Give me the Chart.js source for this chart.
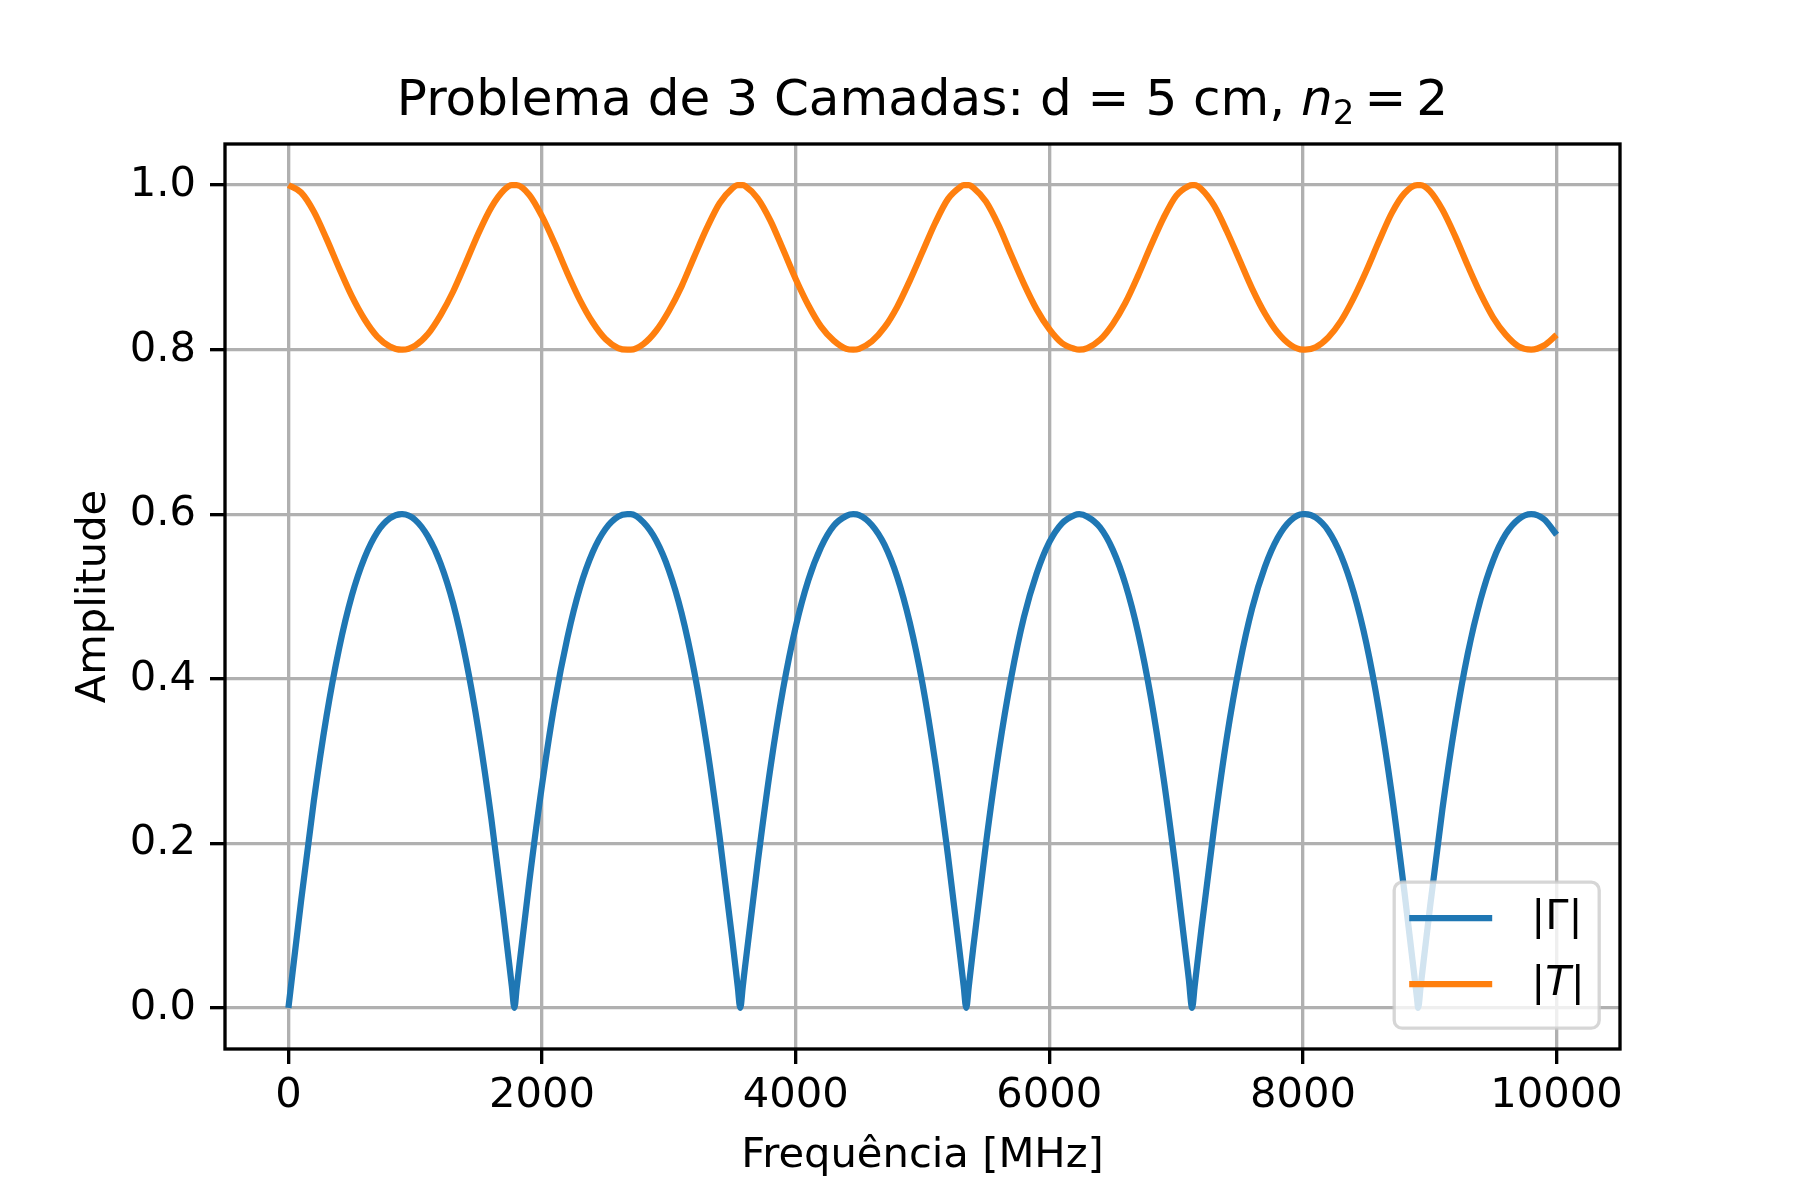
<!DOCTYPE html>
<html>
<head>
<meta charset="utf-8">
<script src="https://cdn.jsdelivr.net/npm/chart.js@4.4.0/dist/chart.umd.min.js"></script>
<style>
  html, body { margin: 0; padding: 0; background: #fff; }
  #wrap { width: 1800px; height: 1200px; }
</style>
</head>
<body>
<div id="wrap"><canvas id="myChart" width="1800" height="1200" style="width:1800px;height:1200px"></canvas></div>
<script>
// frequency samples [MHz]
const freq = [0,100,200,300,400,500,600,700,800,891,900,1000,1100,1200,1300,1400,1500,1600,1700,
  1762,1782,1800,1900,2000,2100,2200,2300,2400,2500,2600,2672,2700,2800,2900,3000,3100,3200,3300,3400,3500,
  3543,3563,3583,3600,3700,3800,3900,4000,4100,4200,4300,4400,4454,4500,4600,4700,4800,4900,5000,5100,5200,5300,
  5325,5345,5365,5400,5500,5600,5700,5800,5900,6000,6100,6200,6236,6300,6400,6500,6600,6700,6800,6900,7000,7100,
  7126,7146,7200,7300,7400,7500,7600,7700,7800,7900,8000,8018,8100,8200,8300,8400,8500,8600,8700,8800,8900,
  8908,8928,9000,9100,9200,9300,9400,9500,9600,9700,9800,9900,10000];

// |Gamma|
const gamma = [0.000,0.130,0.251,0.354,0.437,0.501,0.547,0.578,0.595,0.600,0.600,0.593,0.573,0.540,0.491,0.423,0.336,0.230,0.107,
  0.026,0.000,0.024,0.154,0.271,0.371,0.450,0.511,0.554,0.582,0.597,0.600,0.600,0.590,0.568,0.532,0.480,0.409,0.318,0.208,0.083,
  0.026,0.000,0.026,0.049,0.176,0.291,0.387,0.463,0.520,0.560,0.586,0.598,0.600,0.599,0.587,0.563,0.524,0.468,0.394,0.299,0.186,0.059,
  0.026,0.000,0.026,0.073,0.199,0.310,0.402,0.475,0.528,0.566,0.589,0.599,0.600,0.597,0.584,0.557,0.515,0.456,0.378,0.280,0.164,0.035,
  0.000,0.026,0.097,0.220,0.329,0.417,0.486,0.536,0.571,0.592,0.600,0.600,0.596,0.580,0.550,0.505,0.443,0.361,0.260,0.141,0.011,
  0.000,0.026,0.120,0.242,0.346,0.431,0.496,0.544,0.576,0.594,0.600,0.594,0.575];

// |T|
const trans = [1.000,0.991,0.968,0.935,0.899,0.865,0.837,0.816,0.804,0.800,0.800,0.805,0.819,0.842,0.871,0.906,0.942,0.973,0.994,
  1.000,1.000,1.000,0.988,0.962,0.929,0.893,0.860,0.833,0.813,0.802,0.800,0.800,0.807,0.823,0.847,0.877,0.913,0.948,0.978,0.996,
  1.000,1.000,1.000,0.999,0.984,0.957,0.922,0.886,0.854,0.828,0.811,0.801,0.800,0.801,0.810,0.827,0.852,0.884,0.919,0.954,0.983,0.998,
  1.000,1.000,1.000,0.997,0.980,0.951,0.915,0.880,0.849,0.825,0.808,0.801,0.800,0.802,0.812,0.831,0.857,0.890,0.926,0.960,0.987,0.999,
  1.000,1.000,0.995,0.975,0.944,0.909,0.874,0.844,0.821,0.806,0.800,0.800,0.803,0.815,0.835,0.863,0.896,0.932,0.966,0.990,1.000,
  1.000,1.000,0.993,0.970,0.938,0.902,0.868,0.839,0.818,0.804,0.800,0.805,0.818];

const xTicks = [0, 2000, 4000, 6000, 8000, 10000];
const yTicks = [0, 0.2, 0.4, 0.6, 0.8, 1.0];
const seriesLabels = ['|Γ|', '|T|'];
const seriesColors = ['#1f77b4', '#ff7f0e'];

const FS = 41.67;      // 10pt @ 300dpi
const LW = 6.25;       // 1.5pt
const THIN = 3.33;     // 0.8pt

Chart.defaults.font.family = '"DejaVu Sans"';
Chart.defaults.font.size = FS;
Chart.defaults.color = '#000';

// box spines drawn above the lines, like matplotlib
const spinesPlugin = {
  id: 'spines',
  afterDatasetsDraw(chart) {
    const {ctx, chartArea: a} = chart;
    ctx.save();
    ctx.strokeStyle = '#000';
    ctx.lineWidth = THIN;
    ctx.strokeRect(a.left, a.top, a.right - a.left, a.bottom - a.top);
    ctx.restore();
  }
};

// title with mathtext-like n_2
const titlePlugin = {
  id: 'mplTitle',
  afterDraw(chart) {
    const {ctx, chartArea: a} = chart;
    const main = 'Problema de 3 Camadas: d = 5 cm, ';
    const fMain = '50px "DejaVu Sans"';
    const fIt = 'italic 50px "DejaVu Sans"';
    const fSub = '34px "DejaVu Sans"';
    ctx.save();
    ctx.fillStyle = '#000';
    ctx.textBaseline = 'alphabetic';
    ctx.textAlign = 'left';
    ctx.font = fMain;
    const wMain = ctx.measureText(main).width;
    const wEq = ctx.measureText('=').width;
    const w2 = ctx.measureText('2').width;
    ctx.font = fIt;
    const wN = ctx.measureText('n').width;
    ctx.font = fSub;
    const wSub = ctx.measureText('2').width;
    const gap = 10;
    const total = wMain + wN + wSub + gap + wEq + gap + w2;
    let x = (a.left + a.right) / 2 - total / 2;
    const y = 115;
    ctx.font = fMain; ctx.fillText(main, x, y); x += wMain;
    ctx.font = fIt; ctx.fillText('n', x, y); x += wN;
    ctx.font = fSub; ctx.fillText('2', x, y + 9); x += wSub + gap;
    ctx.font = fMain; ctx.fillText('=', x, y); x += wEq + gap;
    ctx.fillText('2', x, y);
    ctx.restore();
  }
};

// legend box in the lower right corner
const legendPlugin = {
  id: 'mplLegend',
  afterDraw(chart) {
    const {ctx, chartArea: a} = chart;
    const right = a.right - 20.8, bottom = a.bottom - 20.8;
    const w = 205, h = 146, left = right - w, top = bottom - h;
    ctx.save();
    ctx.beginPath();
    ctx.roundRect(left, top, w, h, 8);
    ctx.fillStyle = 'rgba(255,255,255,0.8)';
    ctx.fill();
    ctx.strokeStyle = 'rgba(204,204,204,0.8)';
    ctx.lineWidth = THIN;
    ctx.stroke();
    chart.data.datasets.forEach((ds, i) => {
      const y = top + 36 + i * 66;
      ctx.strokeStyle = ds.borderColor;
      ctx.lineWidth = LW;
      ctx.lineCap = 'butt';
      ctx.beginPath();
      ctx.moveTo(left + 15, y);
      ctx.lineTo(left + 98, y);
      ctx.stroke();
      ctx.fillStyle = '#000';
      ctx.textBaseline = 'middle';
      ctx.textAlign = 'left';
      let x = left + 137;
      for (const ch of ds.label) {
        ctx.font = (/[A-Za-z]/.test(ch) ? 'italic ' : '') + FS + 'px "DejaVu Sans"';
        ctx.fillText(ch, x, y);
        x += ctx.measureText(ch).width;
      }
    });
    ctx.restore();
  }
};

const ctx = document.getElementById('myChart');
new Chart(ctx, {
  type: 'line',
  data: {
    datasets: [
      {
        label: seriesLabels[0],
        data: freq.map((f, i) => ({x: f, y: gamma[i]})),
        borderColor: seriesColors[0],
        borderWidth: LW,
        borderJoinStyle: 'round',
        pointRadius: 0,
        tension: 0.4,
        cubicInterpolationMode: 'monotone',
        fill: false
      },
      {
        label: seriesLabels[1],
        data: freq.map((f, i) => ({x: f, y: trans[i]})),
        borderColor: seriesColors[1],
        borderWidth: LW,
        borderJoinStyle: 'round',
        pointRadius: 0,
        tension: 0.4,
        cubicInterpolationMode: 'monotone',
        fill: false
      }
    ]
  },
  options: {
    responsive: false,
    devicePixelRatio: 1,
    animation: false,
    layout: { padding: { left: 0, right: 180, top: 144, bottom: 0 } },
    plugins: {
      legend: { display: false },
      tooltip: { enabled: false },
      title: { display: false }
    },
    scales: {
      x: {
        type: 'linear',
        min: -500,
        max: 10500,
        afterBuildTicks: (axis) => { axis.ticks = xTicks.map(v => ({value: v})); },
        afterFit: (axis) => { axis.height = 151; },
        ticks: {
          autoSkip: false,
          maxRotation: 0,
          padding: 7,
          callback: (v) => String(v)
        },
        grid: {
          color: '#b0b0b0',
          lineWidth: THIN,
          drawTicks: true,
          tickLength: 15,
          tickColor: '#000',
          tickWidth: THIN
        },
        border: { display: false },
        title: {
          display: true,
          text: 'Frequência [MHz]',
          font: { size: FS },
          padding: { top: 0, bottom: 19 }
        }
      },
      y: {
        type: 'linear',
        min: -0.05,
        max: 1.05,
        afterBuildTicks: (axis) => { axis.ticks = yTicks.map(v => ({value: v})); },
        afterFit: (axis) => { axis.width = 225; },
        ticks: {
          autoSkip: false,
          padding: 14,
          callback: (v) => Number(v).toFixed(1)
        },
        grid: {
          color: '#b0b0b0',
          lineWidth: THIN,
          drawTicks: true,
          tickLength: 15,
          tickColor: '#000',
          tickWidth: THIN
        },
        border: { display: false },
        title: {
          display: true,
          text: 'Amplitude',
          font: { size: FS },
          padding: { top: 69, bottom: 0 }
        }
      }
    }
  },
  plugins: [spinesPlugin, titlePlugin, legendPlugin]
});
</script>
</body>
</html>
